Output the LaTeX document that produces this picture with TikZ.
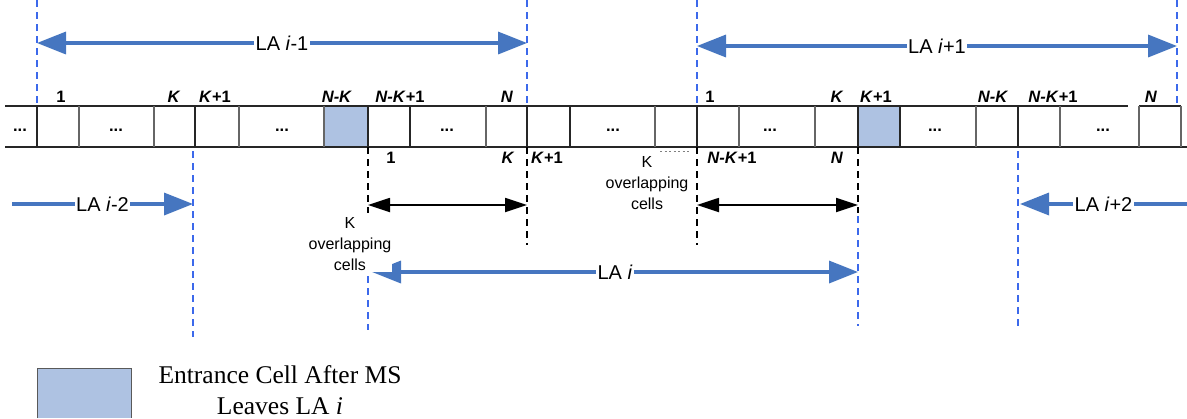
\documentclass[tikz,border=0pt]{standalone}
\usepackage{fontspec}
\setmainfont{Liberation Serif}
\setsansfont{Liberation Sans}
\usetikzlibrary{arrows.meta}
\definecolor{arrowblue}{RGB}{70,118,192}
\definecolor{dashblue}{RGB}{60,105,235}
\definecolor{cellblue}{RGB}{174,194,226}
\begin{document}
\begin{tikzpicture}[x=1pt,y=-1pt,
 mainline/.style={line width=1.2pt, draw=black!85},
 softline/.style={line width=1.1pt, draw=black!60},
 bluedash/.style={dashblue, line width=1.2pt, dash pattern=on 7pt off 5pt},
 blackdash/.style={black, line width=1.2pt, dash pattern=on 7pt off 5pt},
 latip/.tip={Triangle[length=29pt,width=22pt]},
 laone/.style={arrowblue, line width=3.5pt, -latip},
 laboth/.style={arrowblue, line width=3.5pt, latip-latip},
 kboth/.style={black, line width=1.8pt, {Triangle[length=22pt,width=14pt]}-{Triangle[length=22pt,width=14pt]}},
 lalabel/.style={fill=white, text=black, inner sep=1.5pt, font=\fontsize{20}{24}\selectfont\sffamily},
 celllabel/.style={font=\fontsize{16.5}{19}\selectfont\sffamily\bfseries, inner sep=0pt},
 overlab/.style={align=center, font=\fontsize{16}{21}\selectfont\sffamily, inner sep=1pt},
 legendtext/.style={align=center, font=\fontsize{25.5}{31}\selectfont, inner sep=0pt},
]
\useasboundingbox (0,0) rectangle (1187,418);

% entrance cells
\fill[cellblue] (324,106) rectangle (368,147);
\fill[cellblue] (858,106) rectangle (900,147);

% cell row
\draw[mainline] (5,106) -- (1128,106);
\draw[mainline] (1139,106) -- (1181,106);
\draw[mainline] (5,147) -- (1187,147);
\foreach \x in {37,195,368,410,527,570,697,858,900,1018}
  \draw[mainline] (\x,106) -- (\x,147);
\foreach \x in {79,154,239,324,486,655,739,815,976,1060,1139,1181}
  \draw[softline] (\x,106) -- (\x,147);

% dots in cells
\foreach \x/\n in {20/d1,116/d2,282/d3,447/d4,613/d5,770/d6,935/d7,1103/d8}
  \node[celllabel] (\n) at (\x,130) {...};

% labels above
\node[celllabel] (t1) at (61,97) {1};
\node[celllabel] (t2) at (174,97) {\textit{K}};
\node[celllabel] (t3) at (215,97) {\textit{K}+1};
\node[celllabel] (t4) at (337,97) {\textit{N-K}};
\node[celllabel] (t5) at (400,97) {\textit{N-K}+1};
\node[celllabel] (t6) at (507,97) {\textit{N}};
\node[celllabel] (t7) at (710,97) {1};
\node[celllabel] (t8) at (837,97) {\textit{K}};
\node[celllabel] (t9) at (876,97) {\textit{K}+1};
\node[celllabel] (t10) at (993,97) {\textit{N-K}};
\node[celllabel] (t11) at (1053,97) {\textit{N-K}+1};
\node[celllabel] (t12) at (1151,97) {\textit{N}};

% labels below
\node[celllabel] (b1) at (391,158) {1};
\node[celllabel] (b2) at (508,158) {\textit{K}};
\node[celllabel] (b3) at (547,158) {\textit{K}+1};
\node[celllabel] (b4) at (732,158) {\textit{N-K}+1};
\node[celllabel] (b5) at (837,158) {\textit{N}};

% dashed boundaries
\draw[bluedash] (37,0) -- (37,106);
\draw[bluedash] (527,0) -- (527,106);
\draw[bluedash] (697,0) -- (697,106);
\draw[bluedash] (1177,0) -- (1177,106);
\draw[bluedash] (193,151) -- (193,337);
\draw[bluedash] (1018,151) -- (1018,326);
\draw[blackdash] (527,147) -- (527,245);
\draw[blackdash] (697,147) -- (697,245);
\draw[blackdash] (368,147) -- (368,213);
\draw[bluedash] (368,216) -- (368,330);
\draw[blackdash] (858,147) -- (858,213);
\draw[bluedash] (858,216) -- (858,326);
\draw[gray, line width=0.6pt, dash pattern=on 2pt off 2.5pt] (660,151) -- (690,151);

% LA arrows
\coordinate (a1L) at (37,43);  \coordinate (a1R) at (527,43);
\coordinate (a2L) at (697,46); \coordinate (a2R) at (1177,46);
\coordinate (a3L) at (12,204); \coordinate (a3R) at (193,204);
\coordinate (a4L) at (1020,204); \coordinate (a4R) at (1187,204);
\coordinate (a5L) at (372,272); \coordinate (a5R) at (858,272);
\draw[laboth] (a1L) -- (a1R) node[lalabel, midway] (la1) {LA \textit{i}-1};
\draw[laboth] (a2L) -- (a2R) node[lalabel, midway] (la2) {LA \textit{i}+1};
\draw[laone] (a3L) -- (a3R) node[lalabel, midway] (la3) {LA \textit{i}-2};
\draw[laone] (a4R) -- (a4L) node[lalabel, midway] (la4) {LA \textit{i}+2};
\draw[laboth] (a5L) -- (a5R) node[lalabel, midway] (la5) {LA \textit{i}};

% K overlapping arrows
\coordinate (k1L) at (368,205); \coordinate (k1R) at (527,205);
\coordinate (k2L) at (697,205); \coordinate (k2R) at (858,205);
\draw[kboth] (k1L) -- (k1R);
\draw[kboth] (k2L) -- (k2R);

\node[overlab, fill=white] (ov1) at (350,244) {K\\overlapping\\cells};
\node[overlab] (ov2) at (647,183) {K\\overlapping\\cells};

% legend
\fill[cellblue] (37,368) rectangle (131,418);
\draw[black!65, line width=1pt] (37,418) -- (37,368) -- (131,368) -- (131,418);
\node[legendtext] (leg) at (280,390) {Entrance Cell After MS\\Leaves LA \textit{i}};
\end{tikzpicture}
\end{document}
